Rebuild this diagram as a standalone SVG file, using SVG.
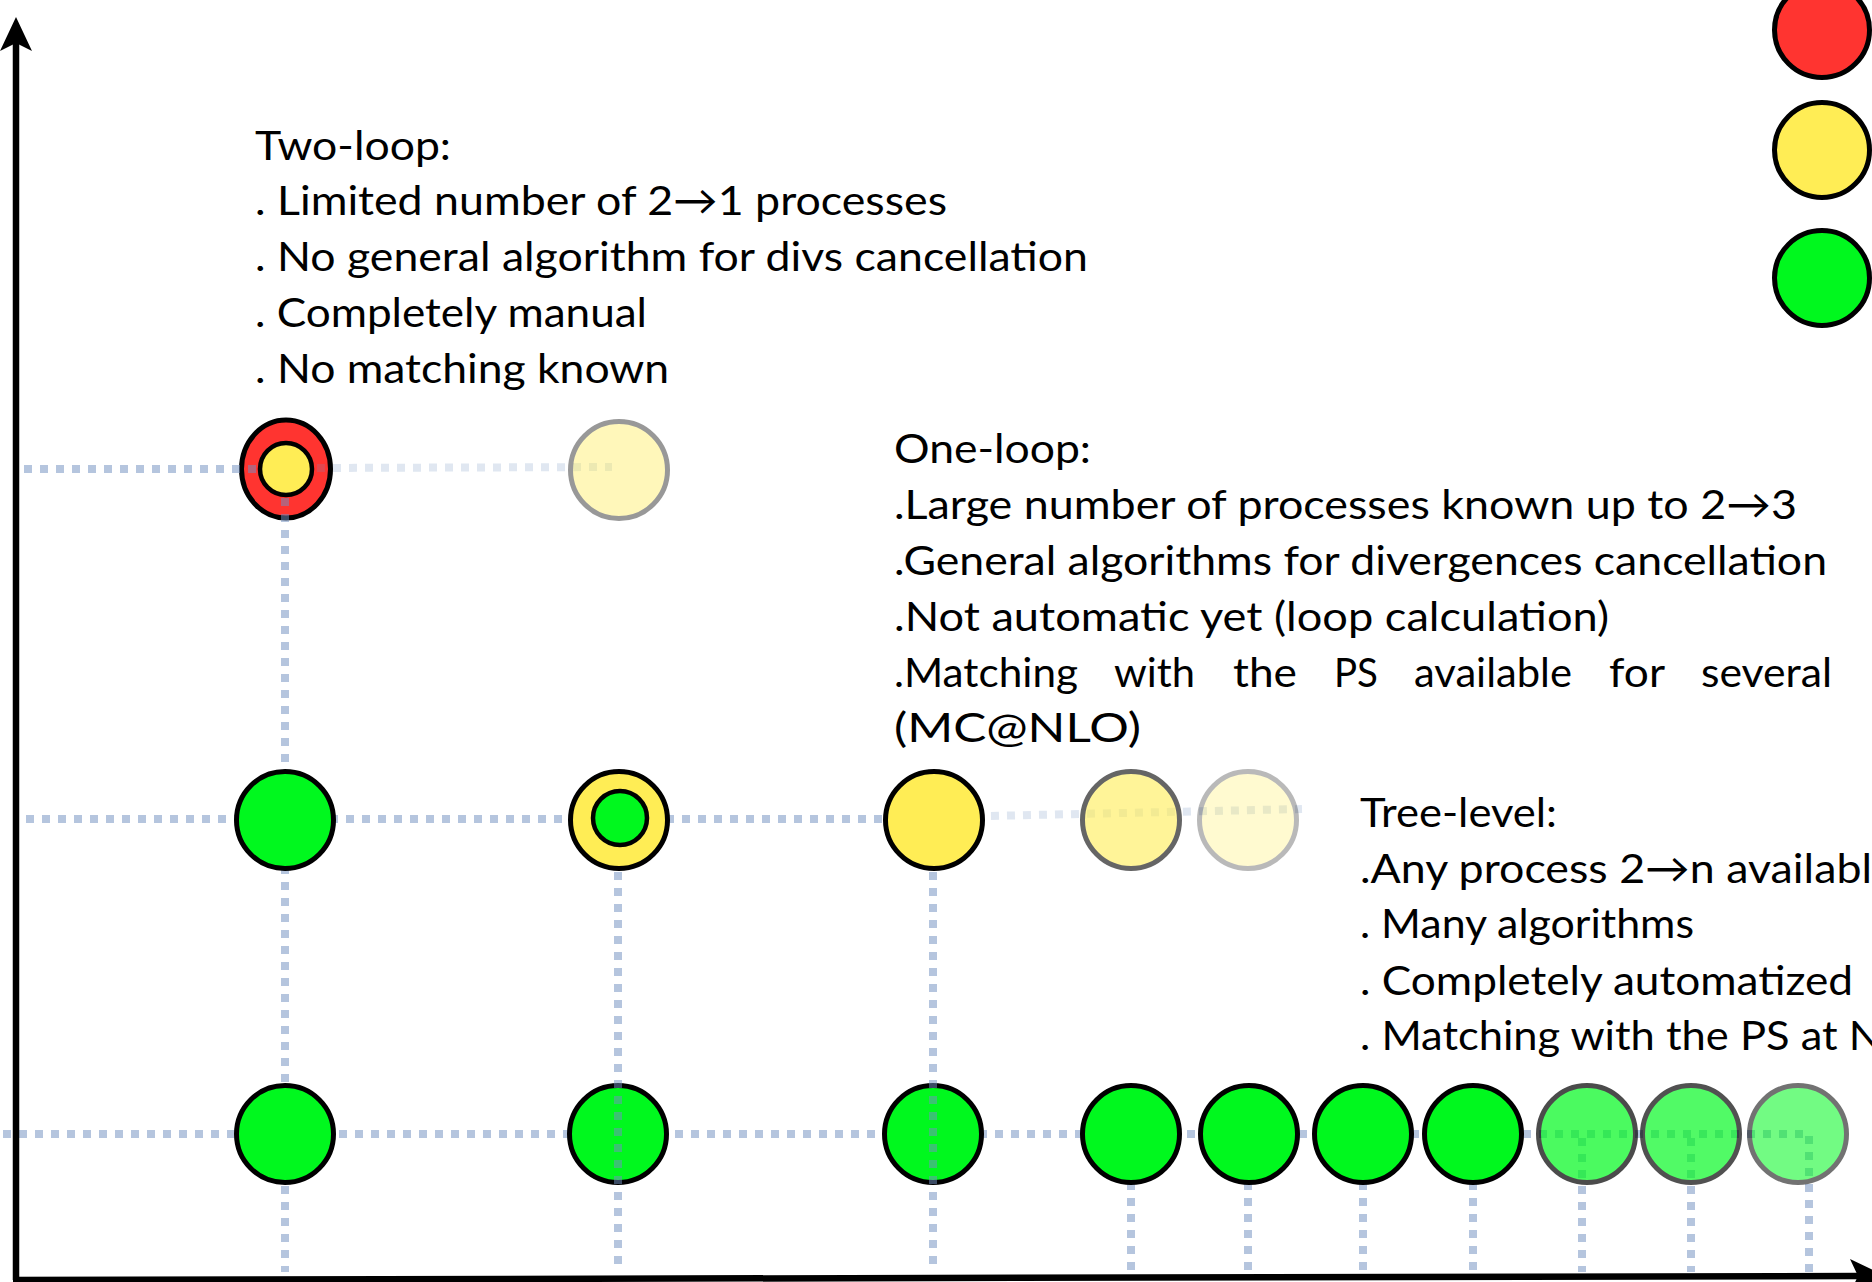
<svg xmlns="http://www.w3.org/2000/svg" width="1872" height="1282" viewBox="0 0 1872 1282">
<style>
.t { font-family: Lato, "Liberation Sans", "DejaVu Sans", sans-serif; font-size: 41px; fill: #000; }
.dot { fill: none; stroke: #7290c0; stroke-opacity: 0.52; stroke-width: 8; stroke-dasharray: 8 8; }
.faint { stroke-opacity: 0.22; }
.node { stroke: #000; stroke-width: 5; }
.inner { stroke: #000; stroke-width: 4.5; }
.red { fill: #ff3430; }
.yel { fill: #ffed55; }
.grn { fill: #00f81e; }
.axis { stroke: #000; stroke-width: 6.5; fill: none; }
</style>
<rect width="1872" height="1282" fill="#fff"/>

<!-- red node drawn below connectors (lines cross its ring) -->
<g id="node-twoloop-red">
  <ellipse class="node red" cx="286" cy="469" rx="44.5" ry="49"/>
  <circle class="inner yel" cx="286" cy="469" r="26"/>
</g>

<g id="connectors">
  <path class="dot" d="M24,469 H257"/>
  <path class="dot faint" d="M317,468 L612,467"/>
  <path class="dot" d="M285,498 V1272"/>
  <path class="dot" d="M26,819 H934"/>
  <path class="dot faint" d="M943,817 L1302,809"/>
  <path class="dot" d="M3,1134 H1809 V1272"/>
  <path class="dot" d="M1131,1134 V1272 M1248,1134 V1272 M1363,1134 V1272 M1473,1134 V1272 M1582,1138 V1272 M1691,1138 V1272"/>
</g>

<g id="node-twoloop-future">
  <circle class="node yel" cx="619" cy="470" r="48.5" opacity="0.4"/>
</g>

<g id="node-oneloop-1"><circle class="node grn" cx="285" cy="820" r="48.5"/></g>
<g id="node-oneloop-2">
  <circle class="node yel" cx="619" cy="820" r="48.5"/>
  <circle class="inner grn" cx="620" cy="818" r="27"/>
</g>
<g id="node-oneloop-3"><circle class="node yel" cx="934" cy="820" r="48.5"/></g>
<g id="node-oneloop-4"><circle class="node yel" cx="1131" cy="820" r="48.5" opacity="0.6"/></g>
<g id="node-oneloop-5"><circle class="node yel" cx="1248" cy="820" r="48.5" opacity="0.27"/></g>

<g id="node-tree-1"><circle class="node grn" cx="285" cy="1134" r="48.5"/></g>
<g id="node-tree-2"><circle class="node grn" cx="618" cy="1134" r="48.5"/></g>
<g id="node-tree-3"><circle class="node grn" cx="933" cy="1134" r="48.5"/></g>
<g id="node-tree-4"><circle class="node grn" cx="1131" cy="1134" r="48.5"/></g>
<g id="node-tree-5"><circle class="node grn" cx="1249" cy="1134" r="48.5"/></g>
<g id="node-tree-6"><circle class="node grn" cx="1363" cy="1134" r="48.5"/></g>
<g id="node-tree-7"><circle class="node grn" cx="1473" cy="1134" r="48.5"/></g>
<g id="node-tree-8"><circle class="node grn" cx="1587" cy="1134" r="48.5" opacity="0.7"/></g>
<g id="node-tree-9"><circle class="node grn" cx="1691" cy="1134" r="48.5" opacity="0.68"/></g>
<g id="node-tree-10"><circle class="node grn" cx="1798" cy="1134" r="48.5" opacity="0.55"/></g>

<g id="connectors-over">
  <path class="dot" d="M618,872 V1272 M933,872 V1272"/>
</g>

<g id="legend">
  <circle class="node red" cx="1822" cy="30" r="47.5"/>
  <circle class="node yel" cx="1822" cy="150" r="47.5"/>
  <circle class="node grn" cx="1822" cy="278" r="47.5"/>
</g>

<g id="text-twoloop">
  <text class="t" x="255" y="160" textLength="196" lengthAdjust="spacingAndGlyphs">Two-loop:</text>
  <text class="t" x="255" y="215" textLength="692" lengthAdjust="spacingAndGlyphs">. Limited number of 2→1 processes</text>
  <text class="t" x="255" y="271" textLength="833" lengthAdjust="spacingAndGlyphs">. No general algorithm for divs cancellation</text>
  <text class="t" x="255" y="327" textLength="392" lengthAdjust="spacingAndGlyphs">. Completely manual</text>
  <text class="t" x="255" y="383" textLength="414" lengthAdjust="spacingAndGlyphs">. No matching known</text>
</g>

<g id="text-oneloop">
  <text class="t" x="894" y="463" textLength="197" lengthAdjust="spacingAndGlyphs">One-loop:</text>
  <text class="t" x="894" y="519" textLength="903" lengthAdjust="spacingAndGlyphs">.Large number of processes known up to 2→3</text>
  <text class="t" x="894" y="575" textLength="933" lengthAdjust="spacingAndGlyphs">.General algorithms for divergences cancellation</text>
  <text class="t" x="894" y="631" textLength="715" lengthAdjust="spacingAndGlyphs">.Not automatic yet (loop calculation)</text>
  <text class="t" y="687"><tspan x="894" textLength="184" lengthAdjust="spacingAndGlyphs">.Matching</tspan><tspan x="1114" textLength="81" lengthAdjust="spacingAndGlyphs">with</tspan><tspan x="1233" textLength="64" lengthAdjust="spacingAndGlyphs">the</tspan><tspan x="1334" textLength="44" lengthAdjust="spacingAndGlyphs">PS</tspan><tspan x="1414" textLength="158" lengthAdjust="spacingAndGlyphs">available</tspan><tspan x="1609" textLength="56" lengthAdjust="spacingAndGlyphs">for</tspan><tspan x="1701" textLength="131" lengthAdjust="spacingAndGlyphs">several</tspan></text>
  <text class="t" x="894" y="742" textLength="247" lengthAdjust="spacingAndGlyphs">(MC@NLO)</text>
</g>

<g id="text-tree">
  <text class="t" x="1360" y="827" textLength="197" lengthAdjust="spacingAndGlyphs">Tree-level:</text>
  <text class="t" x="1360" y="883" textLength="512" lengthAdjust="spacingAndGlyphs">.Any process 2→n availabl</text>
  <text class="t" x="1360" y="938" textLength="334" lengthAdjust="spacingAndGlyphs">. Many algorithms</text>
  <text class="t" x="1360" y="995" textLength="493" lengthAdjust="spacingAndGlyphs">. Completely automatized</text>
  <text class="t" x="1360" y="1050" textLength="522" lengthAdjust="spacingAndGlyphs">. Matching with the PS at N</text>
</g>

<g id="axes">
  <path class="axis" d="M16,1280 V40"/>
  <path d="M16,17 L32,51 L16,43 L0,51 Z" fill="#000"/>
  <path class="axis" d="M13,1280 L1860,1276"/>
  <path d="M1886,1276 L1850,1259 L1858,1276 L1850,1293 Z" fill="#000"/>
</g>
</svg>
